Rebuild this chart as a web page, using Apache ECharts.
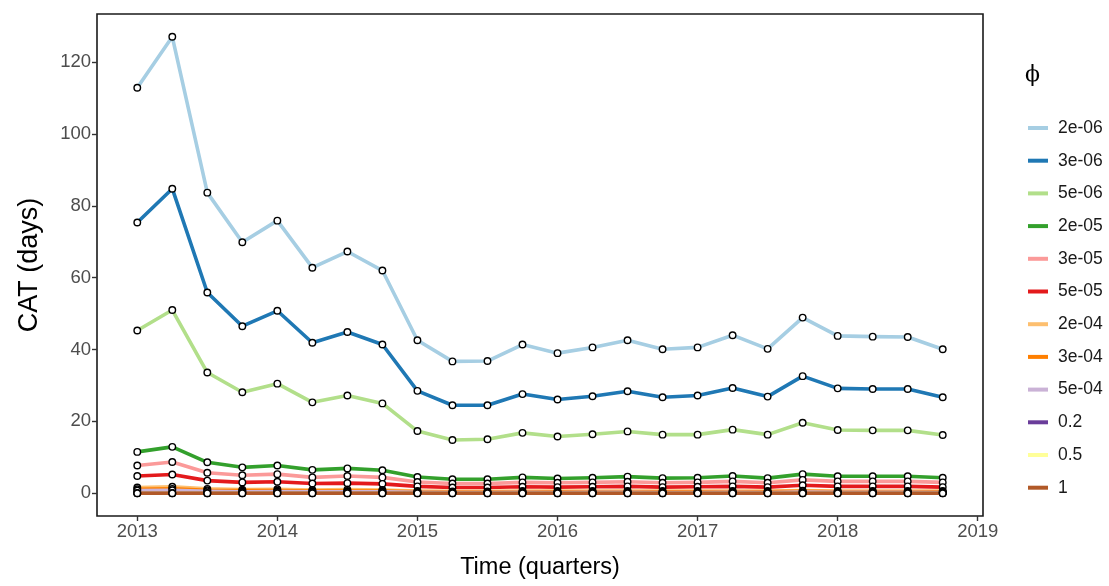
<!DOCTYPE html>
<html>
<head>
<meta charset="utf-8">
<script src="https://cdn.jsdelivr.net/npm/echarts@6/dist/echarts.min.js"></script>
<style>html,body{margin:0;padding:0;background:#fff}#c{width:1109px;height:586px}</style>
</head>
<body>
<div id="c"></div>
<script>
const quarters = [2013,2013.25,2013.5,2013.75,2014,2014.25,2014.5,2014.75,2015,2015.25,2015.5,2015.75,2016,2016.25,2016.5,2016.75,2017,2017.25,2017.5,2017.75,2018,2018.25,2018.5,2018.75];
const seriesNames = ['2e-06','3e-06','5e-06','2e-05','3e-05','5e-05','2e-04','3e-04','5e-04','0.2','0.5','1'];
const colors = ['#A6CEE3','#1F78B4','#B2DF8A','#33A02C','#FB9A99','#E31A1C','#FDBF6F','#FF7F00','#CAB2D6','#6A3D9A','#FFFF99','#B15928'];
const v_2e06 = [112.9,127.1,83.7,69.9,75.9,62.8,67.3,62.0,42.6,36.7,36.8,41.4,39.0,40.6,42.6,40.1,40.6,44.0,40.2,48.9,43.8,43.6,43.5,40.1];
const v_3e06 = [75.4,84.8,55.9,46.5,50.8,41.9,44.9,41.4,28.5,24.5,24.5,27.6,26.1,27.0,28.4,26.7,27.2,29.3,26.9,32.6,29.2,29.0,29.0,26.7];
const v_5e06 = [45.3,51.0,33.6,28.1,30.5,25.3,27.2,25.0,17.3,14.8,15.0,16.8,15.8,16.4,17.2,16.3,16.3,17.7,16.3,19.6,17.6,17.5,17.5,16.2];
const v_2e05 = [11.5,12.9,8.6,7.2,7.7,6.5,6.9,6.4,4.5,3.9,3.9,4.4,4.1,4.3,4.6,4.2,4.3,4.8,4.2,5.3,4.7,4.7,4.7,4.3];
const v_3e05 = [7.7,8.7,5.7,5.0,5.3,4.4,4.8,4.4,3.1,2.7,2.7,3.0,2.9,3.0,3.2,2.9,3.0,3.3,2.9,3.7,3.3,3.3,3.3,3.0];
const v_5e05 = [4.8,5.2,3.5,3.0,3.2,2.7,2.8,2.6,1.9,1.6,1.6,1.8,1.7,1.8,1.9,1.7,1.8,1.9,1.7,2.2,1.9,1.9,1.9,1.7];
const v_2e04 = [1.6,1.8,1.2,1.0,1.1,0.9,1.0,0.9,0.6,0.5,0.5,0.6,0.6,0.6,0.6,0.6,0.6,0.6,0.6,0.7,0.6,0.6,0.6,0.6];
const v_3e04 = [1.1,1.2,0.8,0.7,0.7,0.6,0.6,0.6,0.4,0.35,0.35,0.4,0.4,0.4,0.4,0.4,0.4,0.4,0.4,0.5,0.4,0.4,0.4,0.4];
const v_5e04 = [0.7,0.8,0.5,0.4,0.45,0.4,0.4,0.4,0.25,0.2,0.2,0.25,0.2,0.25,0.25,0.2,0.2,0.25,0.2,0.3,0.25,0.25,0.25,0.2];
const v_0_2 = [0.01,0.01,0.01,0.01,0.01,0.01,0.01,0.01,0.01,0.01,0.01,0.01,0.01,0.01,0.01,0.01,0.01,0.01,0.01,0.01,0.01,0.01,0.01,0.01];
const v_0_5 = [0,0,0,0,0,0,0,0,0,0,0,0,0,0,0,0,0,0,0,0,0,0,0,0];
const v_1 = [0,0,0,0,0,0,0,0,0,0,0,0,0,0,0,0,0,0,0,0,0,0,0,0];
const allValues = [v_2e06,v_3e06,v_5e06,v_2e05,v_3e05,v_5e05,v_2e04,v_3e04,v_5e04,v_0_2,v_0_5,v_1];
const xTicks = [2013,2014,2015,2016,2017,2018,2019];
const yTicks = [0,20,40,60,80,100,120];

const FF = 'Liberation Sans, Arial, sans-serif';
const tickFont = {fontFamily:FF, fontSize:18.5, color:'#4D4D4D'};
const series = [];
seriesNames.forEach((n,i)=>{
  series.push({
    name:n, type:'line', data:quarters.map((q,j)=>[q,allValues[i][j]]),
    showSymbol:false, symbol:'none', color:colors[i],
    lineStyle:{width:3.6,color:colors[i],join:'round'}, z:2, animation:false, silent:true
  });
});
seriesNames.forEach((n,i)=>{
  series.push({
    name:'pts_'+n, type:'scatter', data:quarters.map((q,j)=>[q,allValues[i][j]]),
    symbol:'circle', symbolSize:6.5,
    itemStyle:{color:'#fff',borderColor:'#000',borderWidth:1.4,opacity:1}, z:5, animation:false, silent:true
  });
});

const chart = echarts.init(document.getElementById('c'), null, {renderer:'canvas'});
chart.setOption({
  backgroundColor:'#fff',
  animation:false,
  grid:{left:97,right:126,top:14,bottom:70,show:true,borderColor:'#1a1a1a',borderWidth:1.6,backgroundColor:'transparent'},
  xAxis:{
    type:'value', min:2012.7125, max:2019.0375,
    name:'Time (quarters)', nameLocation:'middle', nameGap:40,
    nameTextStyle:{fontFamily:FF,fontSize:23.5,color:'#000'},
    axisLine:{show:false,onZero:false}, splitLine:{show:false},
    axisTick:{show:true,length:5,lineStyle:{color:'#333',width:1.4},customValues:xTicks},
    axisLabel:Object.assign({margin:6,customValues:xTicks,formatter:v=>String(v)},tickFont)
  },
  yAxis:{
    type:'value', min:-6.355, max:133.455,
    name:'CAT (days)', nameLocation:'middle', nameGap:54, nameRotate:90,
    nameTextStyle:{fontFamily:FF,fontSize:27,color:'#000'},
    axisLine:{show:false,onZero:false}, splitLine:{show:false},
    axisTick:{show:true,length:5,lineStyle:{color:'#333',width:1.4},customValues:yTicks},
    axisLabel:Object.assign({margin:6,customValues:yTicks},tickFont)
  },
  legend:{
    orient:'vertical', left:1023, top:114, icon:'rect', itemWidth:20, itemHeight:4,
    itemGap:14.7, selectedMode:false,
    data:seriesNames.map((n,i)=>({name:n,itemStyle:{color:colors[i]}})),
    textStyle:{fontFamily:FF,fontSize:17.5,color:'#1a1a1a',lineHeight:18,padding:[0,0,0,5]}
  },
  graphic:[{type:'text',left:1025,top:64,style:{text:'\u03d5',fontFamily:'DejaVu Serif, serif',fontSize:22,fill:'#000'}}],
  series:series
});
</script>
</body>
</html>
